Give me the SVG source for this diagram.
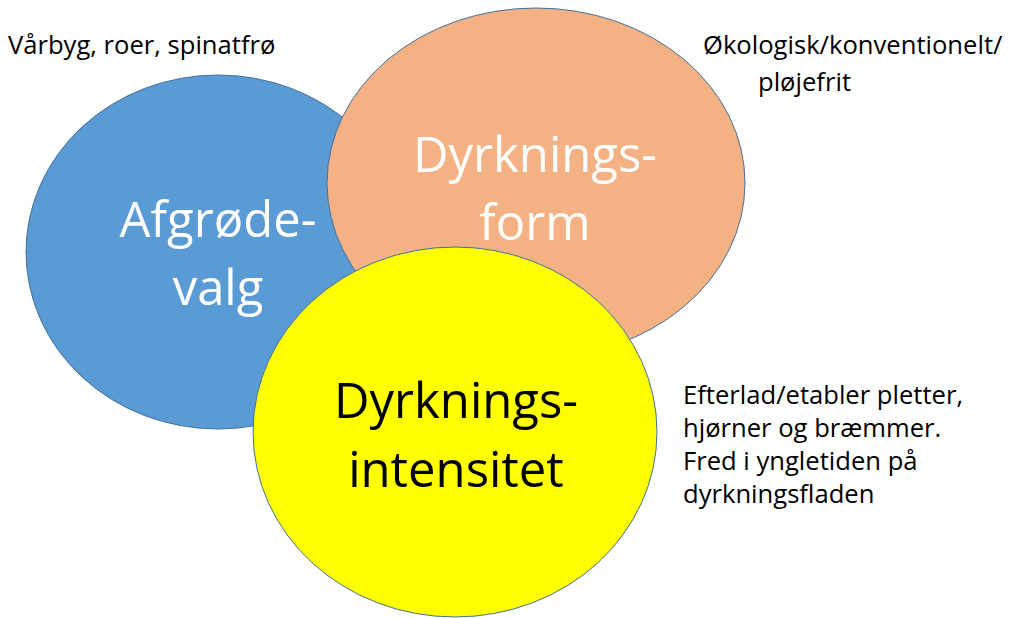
<svg xmlns="http://www.w3.org/2000/svg" width="1011" height="618" viewBox="0 0 1011 618">
<style>
.shape{stroke:#41719C;stroke-width:1}
.big{font-family:"Open Sans","Noto Sans",sans-serif;font-size:49px;text-anchor:middle}
.small{font-family:"Open Sans","Noto Sans",sans-serif;font-size:25.6px;fill:#000}
</style>
<rect width="1011" height="618" fill="#fff"/>
<g id="afgroedevalg">
<ellipse class="shape" cx="218" cy="252" rx="192" ry="177" fill="#5B9BD5"/>
<text class="big" fill="#fff" x="218" y="237">Afgrøde-</text>
<text class="big" fill="#fff" x="218" y="305">valg</text>
</g>
<g id="dyrkningsform">
<ellipse class="shape" cx="536" cy="183" rx="209" ry="175" fill="#F4B183"/>
<text class="big" fill="#fff" x="535" y="172">Dyrknings-</text>
<text class="big" fill="#fff" x="535" y="240">form</text>
</g>
<g id="dyrkningsintensitet">
<ellipse class="shape" cx="455" cy="432" rx="202" ry="185" fill="#FFFF00"/>
<text class="big" fill="#000" x="456" y="418">Dyrknings-</text>
<text class="big" fill="#000" x="456" y="487">intensitet</text>
</g>
<g id="labels">
<text class="small" x="8" y="54">Vårbyg, roer, spinatfrø</text>
<text class="small" x="703" y="54">Økologisk/konventionelt/</text>
<text class="small" x="758" y="91">pløjefrit</text>
<text class="small" x="683" y="404">Efterlad/etabler pletter,</text>
<text class="small" x="683" y="437">hjørner og bræmmer.</text>
<text class="small" x="683" y="470">Fred i yngletiden på</text>
<text class="small" x="683" y="503">dyrkningsfladen</text>
</g>
<g id="connectors"></g>
</svg>
